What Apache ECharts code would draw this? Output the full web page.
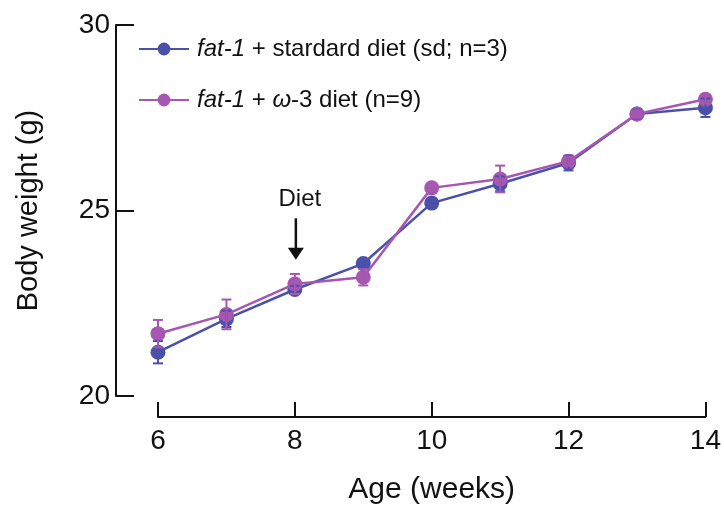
<!DOCTYPE html>
<html>
<head>
<meta charset="utf-8">
<script src="https://cdn.jsdelivr.net/npm/echarts@6/dist/echarts.min.js"></script>
<style>
html,body{margin:0;padding:0;background:#fff;}
#chart{width:724px;height:510px;}
</style>
</head>
<body>
<div id="chart"></div>
<script>
var weeks = [6, 7, 8, 9, 10, 11, 12, 13, 14];
var sdValues = [21.18, 22.08, 22.87, 23.57, 25.2, 25.72, 26.28, 27.6, 27.77];
var sdErr = [0.3, 0.22, 0.1, 0.05, 0.05, 0.2, 0.2, 0.12, 0.25];
var w3Values = [21.68, 22.2, 23.02, 23.2, 25.61, 25.85, 26.33, 27.6, 28.0];
var w3Err = [0.37, 0.4, 0.27, 0.22, 0.05, 0.36, 0.12, 0.1, 0.12];
var seriesNames = ['fat-1 + stardard diet (sd; n=3)', 'fat-1 + \u03c9-3 diet (n=9)'];
var legendLabels = ['{i|fat-1} + stardard diet (sd; n=3)', '{i|fat-1} + {i|\u03c9}-3 diet (n=9)'];
var yTicks = [20, 25, 30];
var xTicks = [6, 8, 10, 12, 14];
var dietWeek = 8;
var dietArrowTop = 24.79, dietArrowTip = 23.67, dietLabelValue = 25.29;

var BLUE = '#4a51a9', PURPLE = '#a557b1';
var FONT = '"Liberation Sans", Arial, Helvetica, sans-serif';

function pairs(vals) { return weeks.map(function (w, i) { return [w, vals[i]]; }); }
function errData(vals, errs) { return weeks.map(function (w, i) { return [w, vals[i] - errs[i], vals[i] + errs[i]]; }); }

function errRender(color) {
  return function (params, api) {
    var x = api.value(0);
    var lo = api.coord([x, api.value(1)]);
    var hi = api.coord([x, api.value(2)]);
    var hw = 5;
    var st = { stroke: color, lineWidth: 2 };
    return {
      type: 'group',
      children: [
        { type: 'line', shape: { x1: lo[0], y1: lo[1], x2: hi[0], y2: hi[1] }, style: st },
        { type: 'line', shape: { x1: lo[0] - hw, y1: lo[1], x2: lo[0] + hw, y2: lo[1] }, style: st },
        { type: 'line', shape: { x1: hi[0] - hw, y1: hi[1], x2: hi[0] + hw, y2: hi[1] }, style: st }
      ]
    };
  };
}

var chart = echarts.init(document.getElementById('chart'), null, { renderer: 'canvas' });
chart.setOption({
  animation: false,
  backgroundColor: '#fff',
  textStyle: { fontFamily: FONT },
  grid: { left: 158, right: 17, top: 25, bottom: 109, containLabel: false },
  legend: {
    orient: 'vertical',
    left: 133,
    top: 32,
    itemWidth: 50,
    itemHeight: 16,
    itemGap: 27,
    data: seriesNames,
    formatter: function (name) { return legendLabels[seriesNames.indexOf(name)]; },
    textStyle: {
      fontSize: 24, color: '#111', fontFamily: FONT, padding: [0, 0, 0, 3],
      rich: { i: { fontStyle: 'italic', fontSize: 24, fontFamily: FONT, color: '#111' } }
    }
  },
  xAxis: {
    type: 'value', min: 6, max: 14, interval: 2, offset: 21,
    name: 'Age (weeks)', nameLocation: 'middle', nameGap: 58,
    nameTextStyle: { fontSize: 30, color: '#111', fontFamily: FONT },
    axisLine: { show: true, lineStyle: { color: '#111', width: 2 } },
    axisTick: { show: true, inside: true, length: 15, lineStyle: { color: '#111', width: 2 } },
    axisLabel: { fontSize: 28, color: '#111', margin: 10, fontFamily: FONT,
      formatter: function (v) { return xTicks.indexOf(v) >= 0 ? String(v) : ''; } },
    splitLine: { show: false }
  },
  yAxis: {
    type: 'value', min: 20, max: 30, interval: 5, offset: 42,
    name: 'Body weight (g)', nameLocation: 'middle', nameGap: 73, nameRotate: 90,
    nameTextStyle: { fontSize: 29, color: '#111', fontFamily: FONT },
    axisLine: { show: true, lineStyle: { color: '#111', width: 2 } },
    axisTick: { show: true, inside: true, length: 18, lineStyle: { color: '#111', width: 2 } },
    axisLabel: { fontSize: 28, color: '#111', margin: 6, fontFamily: FONT,
      formatter: function (v) { return yTicks.indexOf(v) >= 0 ? String(v) : ''; } },
    splitLine: { show: false }
  },
  series: [
    {
      name: seriesNames[0], type: 'line', data: pairs(sdValues), color: BLUE,
      symbol: 'circle', symbolSize: 15, lineStyle: { width: 2.5, color: BLUE },
      itemStyle: { color: BLUE }, z: 2
    },
    {
      name: seriesNames[1], type: 'line', data: pairs(w3Values), color: PURPLE,
      symbol: 'circle', symbolSize: 15, lineStyle: { width: 2.5, color: PURPLE },
      itemStyle: { color: PURPLE }, z: 3
    },
    {
      name: 'sdErr', type: 'custom', data: errData(sdValues, sdErr),
      renderItem: errRender(BLUE), encode: { x: 0, y: [1, 2] }, z: 4, silent: true
    },
    {
      name: 'w3Err', type: 'custom', data: errData(w3Values, w3Err),
      renderItem: errRender(PURPLE), encode: { x: 0, y: [1, 2] }, z: 5, silent: true
    }
  ]
});

var arrowTopPx = chart.convertToPixel({ gridIndex: 0 }, [dietWeek, dietArrowTop]);
var arrowTipPx = chart.convertToPixel({ gridIndex: 0 }, [dietWeek, dietArrowTip]);
var labelPx = chart.convertToPixel({ gridIndex: 0 }, [dietWeek, dietLabelValue]);
var ax = arrowTopPx[0] + 1;
chart.setOption({
  graphic: [
    { type: 'text', x: labelPx[0] + 5, y: labelPx[1], style: { text: 'Diet', fontSize: 24, fontFamily: FONT, fill: '#111', align: 'center', verticalAlign: 'middle' } },
    { type: 'line', shape: { x1: ax, y1: arrowTopPx[1], x2: ax, y2: arrowTipPx[1] - 8 }, style: { stroke: '#111', lineWidth: 2.5 } },
    { type: 'polygon', shape: { points: [[ax - 8, arrowTipPx[1] - 12], [ax + 8, arrowTipPx[1] - 12], [ax, arrowTipPx[1]]] }, style: { fill: '#111' } }
  ]
});
</script>
</body>
</html>
